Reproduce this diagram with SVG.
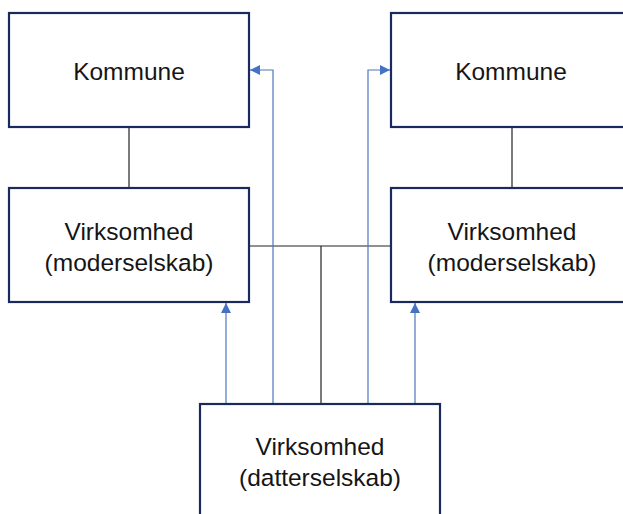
<svg xmlns="http://www.w3.org/2000/svg" width="623" height="514" viewBox="0 0 623 514">
<style>
.box{fill:#fff;stroke:#1a2a5e;stroke-width:2.2}
.t{font-family:"Liberation Sans",Arial,sans-serif;font-size:24.5px;fill:#151515;text-anchor:middle}
.k{fill:none;stroke:#222;stroke-width:1.2}
.b{fill:none;stroke:#4f77bd;stroke-width:1.2}
</style>
<defs>
<marker id="ah" viewBox="0 0 10 10" refX="10" refY="5" markerWidth="10" markerHeight="10" markerUnits="userSpaceOnUse" orient="auto">
<path d="M0,0 L10,5 L0,10 Z" fill="#4472c4"/>
</marker>
</defs>
<rect width="623" height="514" fill="#fff"/>
<g id="connectors">
<line class="k" x1="129" y1="127" x2="129" y2="188"/>
<line class="k" x1="512" y1="127" x2="512" y2="188"/>
<line class="k" x1="249" y1="246" x2="391" y2="246"/>
<line class="k" x1="321" y1="246" x2="321" y2="404"/>
<polyline class="b" points="273,404 273,70 250,70" marker-end="url(#ah)"/>
<polyline class="b" points="368,404 368,70 390,70" marker-end="url(#ah)"/>
<line class="b" x1="226" y1="404" x2="226" y2="303" marker-end="url(#ah)"/>
<line class="b" x1="415" y1="404" x2="415" y2="303" marker-end="url(#ah)"/>
</g>
<g id="kommune-left">
<rect class="box" x="9" y="13" width="240" height="114"/>
<text class="t" x="129" y="80">Kommune</text>
</g>
<g id="kommune-right">
<rect class="box" x="391" y="13" width="240" height="114"/>
<text class="t" x="511" y="80">Kommune</text>
</g>
<g id="virksomhed-left">
<rect class="box" x="9" y="188" width="240" height="114"/>
<text class="t" x="129" y="240">Virksomhed</text>
<text class="t" x="129" y="271">(moderselskab)</text>
</g>
<g id="virksomhed-right">
<rect class="box" x="391" y="188" width="240" height="114"/>
<text class="t" x="512" y="240">Virksomhed</text>
<text class="t" x="512" y="271">(moderselskab)</text>
</g>
<g id="datterselskab">
<rect class="box" x="200" y="404" width="240" height="120"/>
<text class="t" x="320" y="455">Virksomhed</text>
<text class="t" x="320" y="486">(datterselskab)</text>
</g>
</svg>
